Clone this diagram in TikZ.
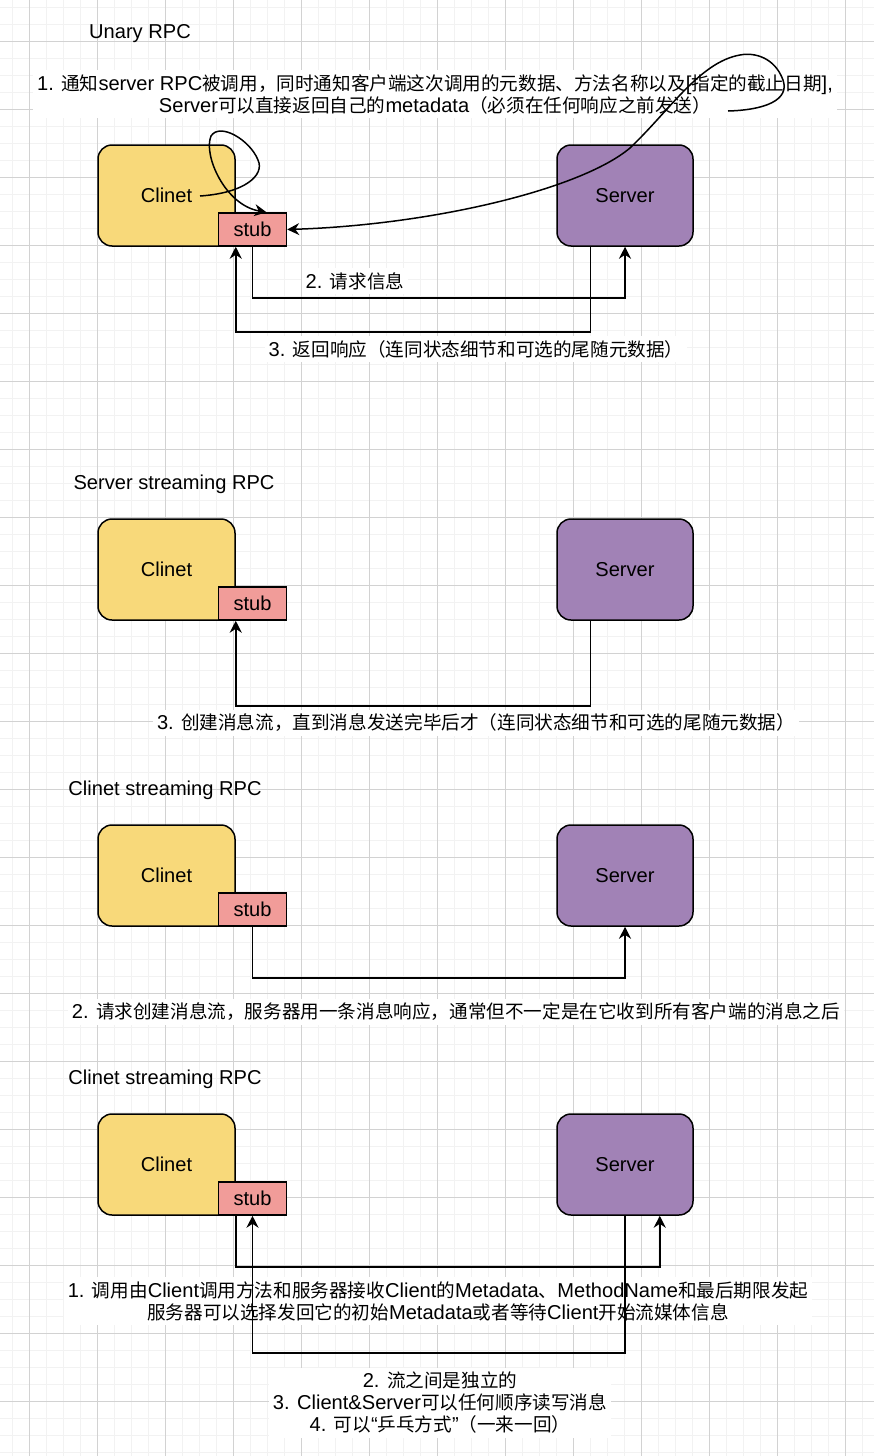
\documentclass[tikz,border=0pt]{standalone}
\usepackage{fontspec}
\setmainfont{Liberation Sans}[Scale=1.08]
\newfontfamily\latfont{Liberation Sans}[Scale=1.08]
\newfontfamily\cjkfont{Noto Sans CJK SC}
\usetikzlibrary{
    arrows.meta,
    calc,
    positioning
}
\definecolor{clientfill}{RGB}{248,217,122}
\definecolor{serverfill}{RGB}{161,130,182}
\definecolor{stubfill}{RGB}{241,156,153}
\definecolor{gridminor}{RGB}{242,242,242}
\definecolor{gridmajor}{RGB}{210,210,210}

% Chinese characters are set in the CJK font
\newXeTeXintercharclass\cjkcls
\newcount\cjkc
\def\setcjkrange#1#2{\cjkc=#1 \loop\XeTeXcharclass\cjkc=\cjkcls \advance\cjkc by 1 \ifnum\cjkc<#2 \repeat}
\setcjkrange{"3000}{"3040}
\setcjkrange{"4E00}{"A000}
\setcjkrange{"FF00}{"FFF0}
\XeTeXinterchartoks 0 \cjkcls = {\cjkfont}
\XeTeXinterchartoks 4095 \cjkcls = {\cjkfont}
\XeTeXinterchartoks \cjkcls 0 = {\latfont}
\XeTeXinterchartoks \cjkcls 4095 = {\latfont}
\XeTeXinterchartokenstate=1

\begin{document}
\begin{tikzpicture}[x=0.5pt, y=-0.5pt,
    every node/.style={font=\fontsize{9.3}{11}\selectfont},
    box/.style={draw, line width=0.75pt, rounded corners=7pt,
        minimum width=68.5pt, minimum height=50.5pt, inner sep=0pt},
    clientbox/.style={box, fill=clientfill},
    serverbox/.style={box, fill=serverfill, minimum width=68pt},
    stubbox/.style={draw, line width=0.75pt, fill=stubfill, minimum width=34pt,
        minimum height=16.5pt, inner sep=0pt, anchor=south west},
    title/.style={inner sep=1pt},
    note/.style={fill=white, align=center, inner sep=2pt},
    flow/.style={line width=0.75pt, -{Stealth[length=6pt,width=6pt,inset=2pt]}}
]
    \useasboundingbox (0,0) rectangle (874,1456);
    \fill[white] (0,0) rectangle (874,1456);

    % background grid
    \foreach \x in {12,29,...,874} \draw[gridminor, line width=0.5pt] (\x,0) -- (\x,1456);
    \foreach \y in {7,24,...,1456} \draw[gridminor, line width=0.5pt] (0,\y) -- (874,\y);
    \foreach \x in {29,97,...,874} \draw[gridmajor, line width=0.5pt] (\x,0) -- (\x,1456);
    \foreach \y in {41,109,...,1456} \draw[gridmajor, line width=0.5pt] (0,\y) -- (874,\y);

    % titles and notes
    \node[title] (titlea) at (140,34) {Unary RPC};
    \node[title] (titleb) at (174,484) {Server streaming RPC};
    \node[title] (titlec) at (165,790) {Clinet streaming RPC};
    \node[title] (titled) at (165,1079) {Clinet streaming RPC};

    \node[note] (notea) at (435,94) {1. 通知server RPC被调用，同时通知客户端这次调用的元数据、方法名称以及[指定的截止日期],\\Server可以直接返回自己的metadata（必须在任何响应之前发送）};
    \node[note] (requesta) at (355,281) {2. 请求信息};
    \node[note] (replya) at (476,349) {3. 返回响应（连同状态细节和可选的尾随元数据）};
    \node[note] (replyb) at (476,723) {3. 创建消息流，直到消息发送完毕后才（连同状态细节和可选的尾随元数据）};
    \node[note] (requestc) at (456,1012) {2. 请求创建消息流，服务器用一条消息响应，通常但不一定是在它收到所有客户端的消息之后};
    \node[note] (calld) at (438,1301) {1. 调用由Client调用方法和服务器接收Client的Metadata、MethodName和最后期限发起\\服务器可以选择发回它的初始Metadata或者等待Client开始流媒体信息};
    \node[note] (streamd) at (440,1403) {2. 流之间是独立的\\3. Client\&Server可以任何顺序读写消息\\4. 可以“乒乓方式”（一来一回）};

    % client, stub and server of each section
    \foreach \s/\y in {a/195.5, b/569.5, c/875.5, d/1164.5} {
        \node[clientbox] (client\s) at (166.5,\y) {Clinet};
        \node[serverbox] (server\s) at (625,\y) {Server};
        \node[stubbox] (stub\s) at ([xshift=-9pt]client\s.south east) {stub};
    }

    % Unary RPC
    \coordinate (loopstart) at (200,196);
    \coordinate (stubtop) at ([xshift=7pt]stuba.north);
    \coordinate (notetail) at (728,111);
    \draw[flow] (loopstart) .. controls (245,193) and (265,175) .. (258,160)
        .. controls (250,140) and (220,122) .. (211,136)
        .. controls (203,155) and (225,205) .. (stubtop);
    \draw[flow] (notetail) .. controls (765,110) and (790,100) .. (783,80)
        .. controls (775,58) and (755,52) .. (740,55)
        .. controls (700,62) and (670,110) .. (630,148)
        .. controls (580,190) and (430,225) .. (stuba.east);
    \draw[flow] (stuba.south) -- ++(0,51) -| (servera.south);
    \draw[flow] ([xshift=17pt]servera.south west) -- ++(0,85) -| (clienta.south east);

    % Server streaming RPC
    \draw[flow] ([xshift=17pt]serverb.south west) -- ++(0,85) -| (clientb.south east);

    % Clinet streaming RPC
    \draw[flow] (stubc.south) -- ++(0,51) -| (serverc.south);

    % bidirectional streaming
    \draw[flow] (clientd.south east) -- ++(0,51) -| ([xshift=-17pt]serverd.south east);
    \draw[flow] (serverd.south) -- ++(0,137) -| (stubd.south);
\end{tikzpicture}
\end{document}
